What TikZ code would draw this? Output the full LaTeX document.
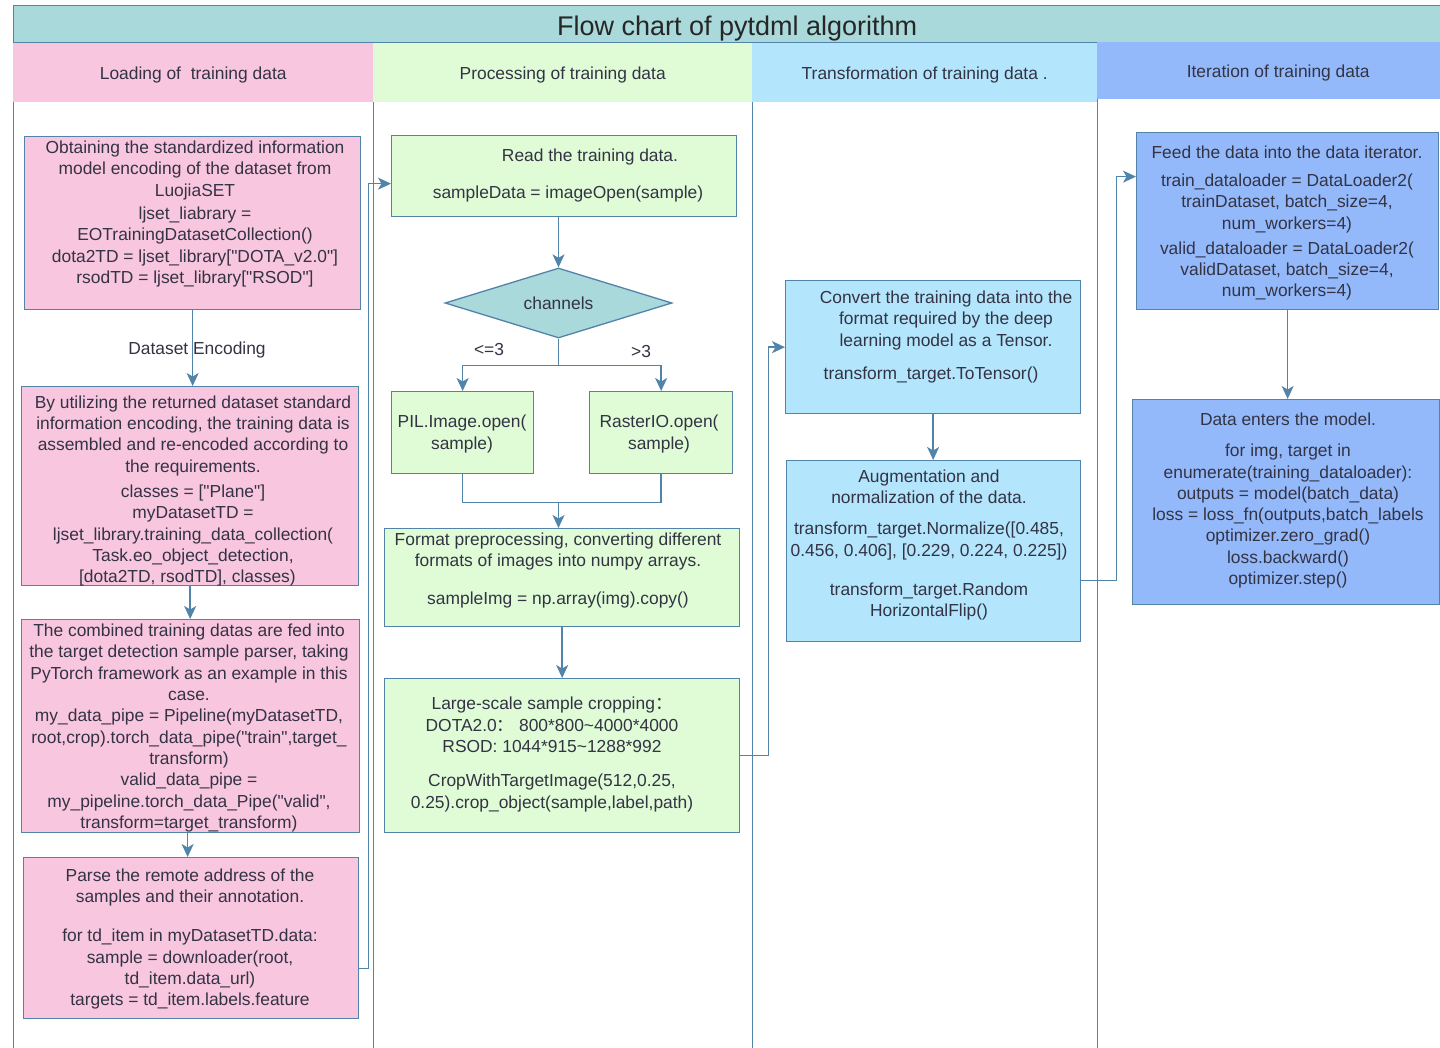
\documentclass[tikz,border=0pt]{standalone}
\usepackage{fontspec}
\setmainfont{Liberation Sans}[Ligatures=TeXOff]
\newfontfamily\cjk{Noto Sans CJK SC}
\usetikzlibrary{shapes.geometric,arrows.meta,calc}

\definecolor{lanepink}{HTML}{F8C6DF}
\definecolor{lanegreen}{HTML}{DFFCD6}
\definecolor{lanesky}{HTML}{B3E5FC}
\definecolor{laneblue}{HTML}{93B9FB}
\definecolor{titleteal}{HTML}{A9D9DA}
\definecolor{edge}{HTML}{5283A8}
\definecolor{ink}{HTML}{333344}

\tikzset{
  box/.style={draw=edge, line width=1.3pt, inner sep=0pt, anchor=north west},
  hdr/.style={inner sep=0pt, anchor=north west, text=ink,
    text height=17pt, text depth=4pt,
    font=\fontsize{17.4}{21.3}\selectfont},
  txt/.style={align=center, text=ink, inner sep=0pt, yshift=-2pt,
    font=\fontsize{17.4}{21.3}\selectfont},
  flow/.style={draw=edge, line width=1.4pt},
  arr/.style={flow, -{Stealth[length=13pt,width=12pt,inset=3.5pt]}},
  lane/.style={draw=edge, line width=1pt},
}
\newcommand{\cc}{\hspace*{16pt}}

\begin{document}
\begin{tikzpicture}[x=1pt, y=-1pt]
\fill[white] (0,0) rectangle (1440,1048);
\useasboundingbox (0,0) rectangle (1440,1048);

% title bar and lane headers
\node[box, fill=titleteal, minimum width=1427pt, minimum height=37pt,
  text height=27.5pt, text depth=5.7pt,
  font=\fontsize{27}{30}\selectfont, text=black!85] (title) at (13,5)
  {\hspace*{20pt}Flow chart of pytdml algorithm};
\node[hdr, fill=lanepink, minimum width=360pt, minimum height=59pt] (h1) at (13,43)
  {Loading of \ training data};
\node[hdr, fill=lanegreen, minimum width=379pt, minimum height=59pt] (h2) at (373,43)
  {Processing of training data};
\node[hdr, fill=lanesky, minimum width=345pt, minimum height=59pt] (h3) at (752,43)
  {Transformation of training data .};
\node[hdr, fill=laneblue, minimum width=343pt, minimum height=57pt] (h4) at (1097,42)
  {\hspace*{19pt}Iteration of training data};

% lane separators
\draw[lane] (h1.south west) -- (h1.south west |- 0,1048);
\draw[lane] (h2.south west) -- (h2.south west |- 0,1048);
\draw[lane] (h3.south west) -- (h3.south west |- 0,1048);
\draw[lane] (h4.south west) -- (h4.south west |- 0,1048);

% loading lane
\node[box, fill=lanepink, minimum width=336pt, minimum height=173pt] (b1) at (24,136) {};
\node[box, fill=lanepink, minimum width=337pt, minimum height=199pt] (b2) at (21,386) {};
\node[box, fill=lanepink, minimum width=338pt, minimum height=213pt] (b3) at (21,619) {};
\node[box, fill=lanepink, minimum width=335pt, minimum height=161pt] (b4) at (23,857) {};

\node[txt] (t1) at (195,212) {Obtaining the standardized information\\
model encoding of the dataset from\\
LuojiaSET\\[2pt]
ljset\_liabrary =\\
EOTrainingDatasetCollection()\\
dota2TD = ljset\_library["DOTA\_v2.0"]\\
rsodTD = ljset\_library["RSOD"]};

\node[txt] (t2) at (193,489) {By utilizing the returned dataset standard\\
information encoding, the training data is\\
assembled and re-encoded according to\\
the requirements.\\[4pt]
classes = ["Plane"]\cc\\
myDatasetTD =\cc\\
ljset\_library.training\_data\_collection(\cc\\
Task.eo\_object\_detection,\cc\\{}
[dota2TD, rsodTD], classes)\cc};

\node[txt] (t3) at (189,726) {The combined training datas are fed into\\
the target detection sample parser, taking\\
PyTorch framework as an example in this\\
case.\\
my\_data\_pipe = Pipeline(myDatasetTD,\\
root,crop).torch\_data\_pipe("train",target\_\\
transform)\\
valid\_data\_pipe =\\
my\_pipeline.torch\_data\_Pipe("valid",\\
transform=target\_transform)};

\node[txt] (t4) at (190,937) {Parse the remote address of the\\
samples and their annotation.\\[18pt]
for td\_item in myDatasetTD.data:\\
sample = downloader(root,\\
td\_item.data\_url)\\
targets = td\_item.labels.feature};

% processing lane
\node[box, fill=lanegreen, minimum width=345pt, minimum height=81pt] (b5) at (391,135) {};
\node[txt] (t5) at (568,173.5) {\hspace*{44pt}Read the training data.\\[16pt]
sampleData = imageOpen(sample)};

\node[diamond, draw=edge, fill=titleteal, line width=1.3pt, inner sep=0pt,
  minimum width=227pt, minimum height=70pt, aspect=3.24, text=ink,
  font=\fontsize{17.4}{21.3}\selectfont] (dia) at (558.5,303) {channels};

\node[box, fill=lanegreen, minimum width=142pt, minimum height=82pt] (b6) at (391,391) {};
\node[box, fill=lanegreen, minimum width=143pt, minimum height=82pt] (b7) at (589,391) {};
\node[txt] (t6) at (462,432) {PIL.Image.open(\\sample)};
\node[txt] (t7) at (659,432) {RasterIO.open(\\sample)};

\node[box, fill=lanegreen, minimum width=355pt, minimum height=98pt] (b8) at (384,528) {};
\node[txt] (t8) at (558,568.5) {Format preprocessing, converting different\\
formats of images into numpy arrays.\\[17pt]
sampleImg = np.array(img).copy()};

\node[box, fill=lanegreen, minimum width=355pt, minimum height=154pt] (b9) at (384,678) {};
\node[txt] (t9) at (552,752.5) {Large-scale sample cropping{\cjk ：}\\
DOTA2.0{\cjk ：}\ 800*800\textasciitilde 4000*4000\\
RSOD: 1044*915\textasciitilde 1288*992\\[13pt]
CropWithTargetImage(512,0.25,\\
0.25).crop\_object(sample,label,path)};

% transformation lane
\node[box, fill=lanesky, minimum width=295pt, minimum height=133pt] (b10) at (785,280) {};
\node[txt] (t10) at (946,335) {Convert the training data into the\\
format required by the deep\\
learning model as a Tensor.\\[12pt]
\hspace*{-30pt}transform\_target.ToTensor()};

\node[box, fill=lanesky, minimum width=294pt, minimum height=181pt] (b11) at (786,460) {};
\node[txt] (t11) at (929,543) {Augmentation and\\
normalization of the data.\\[10pt]
transform\_target.Normalize([0.485,\\
0.456, 0.406], [0.229, 0.224, 0.225])\\[18pt]
transform\_target.Random\\
HorizontalFlip()};

% iteration lane
\node[box, fill=laneblue, minimum width=302pt, minimum height=177pt] (b12) at (1136,132) {};
\node[txt] (t12) at (1287,221) {Feed the data into the data iterator.\\[7pt]
train\_dataloader = DataLoader2(\\
trainDataset, batch\_size=4,\\
num\_workers=4)\\[4pt]
valid\_dataloader = DataLoader2(\\
validDataset, batch\_size=4,\\
num\_workers=4)};

\node[box, fill=laneblue, minimum width=307pt, minimum height=205pt] (b13) at (1132,399) {};
\node[txt] (t13) at (1288,498.5) {Data enters the model.\\[10pt]
for img, target in\\
enumerate(training\_dataloader):\\
outputs = model(batch\_data)\\
loss = loss\_fn(outputs,batch\_labels\\
optimizer.zero\_grad()\\
loss.backward()\\
optimizer.step()};

% connectors
\draw[arr] (b1.south) -- (b1.south |- b2.north);
\node[txt] (enc) at (197,348) {Dataset Encoding};
\draw[arr] (b2.south) -- (b2.south |- b3.north);
\draw[arr] ([xshift=-3pt]b3.south) -- ([xshift=-3pt]b3.south |- b4.north);
\draw[arr] ([yshift=-30.5pt]b4.east) -- ++(9,0) |- ([yshift=-7.5pt]b5.west);

\draw[arr] (dia.north |- b5.south) -- (dia.north);
\draw[flow] (dia.south) -- ++(0,27) coordinate (split);
\draw[arr] (split) -| (b6.north);
\draw[arr] (split) -| (b7.north);
\node[txt] (le) at (489,348) {<=3};
\node[txt] (gt) at (641,350) {>3};
\draw[flow] (b6.south) -- ++(0,28) -| (b7.south);
\coordinate (merge) at ($(dia.south |- b6.south)+(0,28)$);
\draw[arr] (merge) -- (merge |- b8.north);
\draw[arr] (b8.south) -- (b8.south |- b9.north);
\draw[arr] (b9.east) -- ++(28,0) |- (b10.west);

\draw[arr] (b10.south) -- (b10.south |- b11.north);
\draw[arr] ([yshift=-29.5pt]b11.east) -- ++(35,0) |- ([yshift=44.5pt]b12.west);
\draw[arr] (b12.south) -- (b12.south |- b13.north);
\end{tikzpicture}
\end{document}
